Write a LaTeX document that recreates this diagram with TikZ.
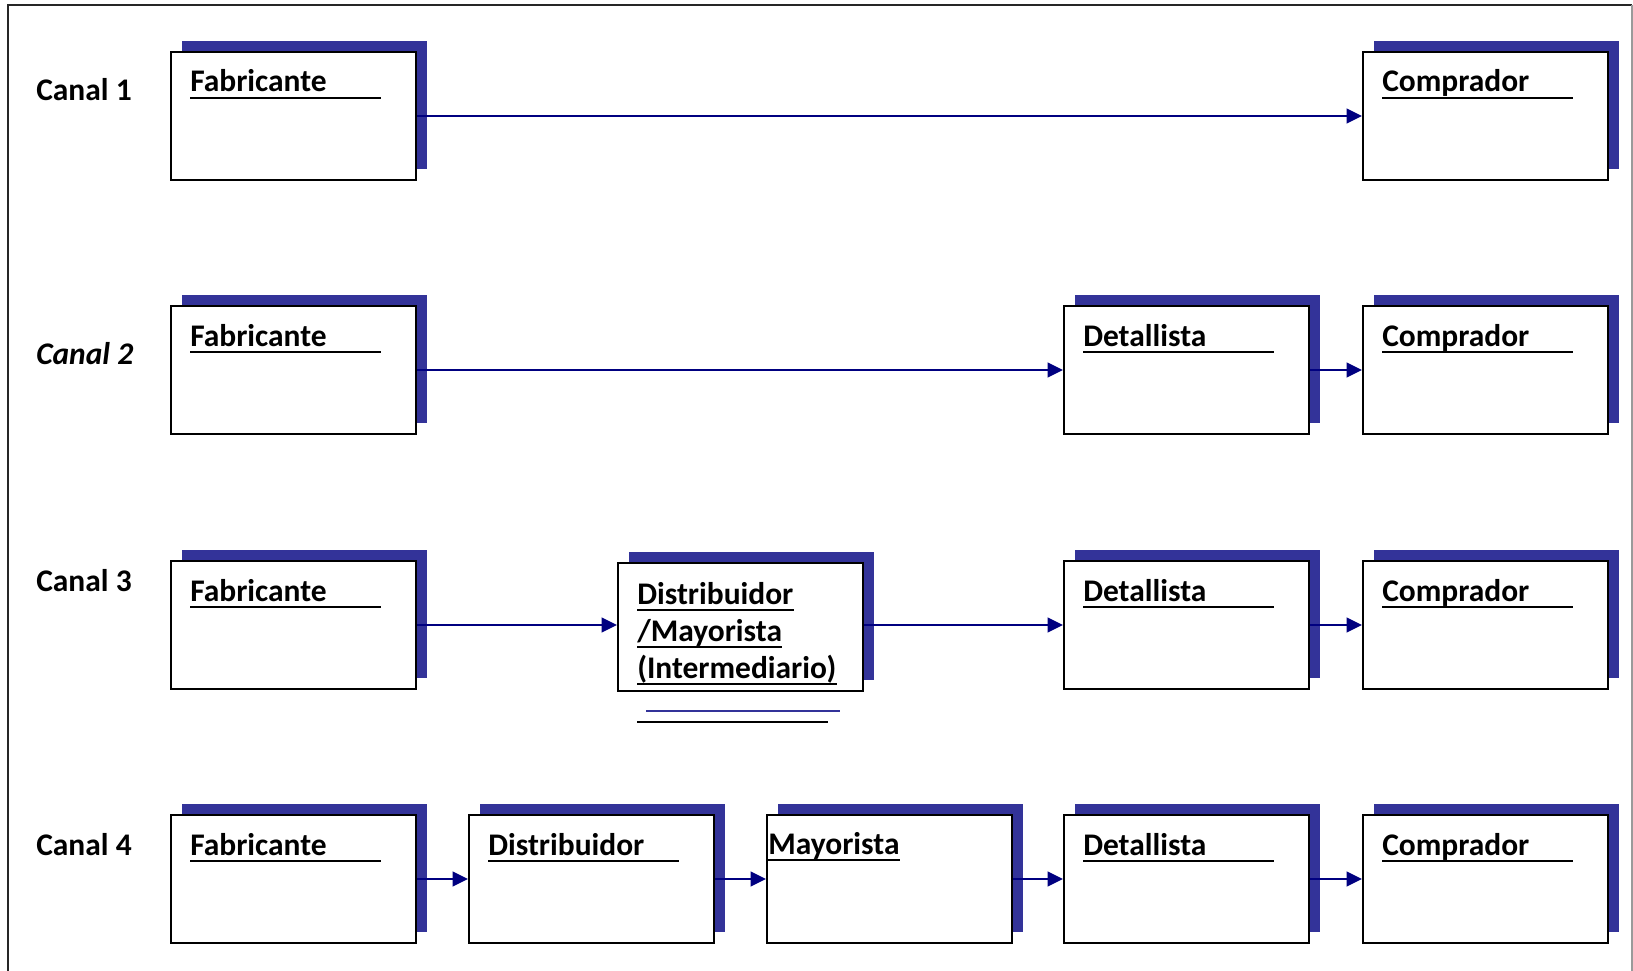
\documentclass[tikz,border=0pt]{standalone}
\usepackage{fontspec}
\setmainfont{Carlito}
\usetikzlibrary{arrows.meta,shadows}
\definecolor{shblue}{HTML}{333399}
\definecolor{navyline}{HTML}{000080}
\definecolor{framegray}{HTML}{9A9A9A}
\tikzset{
  stage/.style={draw=black, line width=1.5pt, fill=white, inner sep=0pt,
    minimum width=183.75pt, minimum height=96pt, anchor=north west,
    general shadow={fill=shblue, shadow xshift=8.25pt, shadow yshift=8.25pt}},
  title/.style={anchor=base west, inner sep=0pt,
    font=\fontsize{23.6}{28}\selectfont\bfseries},
  channel/.style={title},
  uline/.style={draw=black, line width=1.6pt},
  flow/.style={draw=navyline, line width=1.4pt,
    -{Triangle[length=11.5pt,width=11pt]}},
}
% box title with an underline running on past the word
\newcommand\stagetitle[2]{%
  \node[title] (#1-t) at ([shift={(20,41)}]#1.north west) {#2};
  \draw[uline] ([yshift=-4.2pt]#1-t.base west) -- ++(191,0);
}
\begin{document}
\begin{tikzpicture}[x=0.75pt, y=-0.75pt]
\useasboundingbox (0,0) rectangle (1633,970);

% outer frame
\draw[black!85, line width=1.5pt] (8,975) -- (8,5) -- (1632,5);
\draw[framegray, line width=1pt] (1632,5) -- (1632,975);

% channel labels
\node[channel] (ch1) at (36,101) {Canal 1};
\node[channel, font=\fontsize{23.6}{28}\selectfont\bfseries\itshape] (ch2) at (36,364) {Canal 2};
\node[channel] (ch3) at (36,591) {Canal 3};
\node[channel] (ch4) at (36,855) {Canal 4};

% row 1
\node[stage] (f1) at (170,51) {};
\node[stage] (c1) at (1362,51) {};
% row 2
\node[stage] (f2) at (170,305) {};
\node[stage] (d2) at (1063,305) {};
\node[stage] (c2) at (1362,305) {};
% row 3
\node[stage] (f3) at (170,560) {};
\node[stage] (m3) at (617,562) {};
\node[stage] (d3) at (1063,560) {};
\node[stage] (c3) at (1362,560) {};
% row 4
\node[stage] (f4) at (170,814) {};
\node[stage] (s4) at (468,814) {};
\node[stage] (m4) at (766,814) {};
\node[stage] (d4) at (1063,814) {};
\node[stage] (c4) at (1362,814) {};

% titles
\foreach \b in {f1,f2,f3,f4} {\stagetitle{\b}{Fabricante}}
\foreach \b in {c1,c2,c3,c4} {\stagetitle{\b}{Comprador}}
\foreach \b in {d2,d3,d4} {\stagetitle{\b}{Detallista}}
\stagetitle{s4}{Distribuidor}

\node[title] (m4-t) at ([shift={(2,40)}]m4.north west) {Mayorista};
\draw[uline] ([yshift=-4.2pt]m4-t.base west) -- ([yshift=-4.2pt]m4-t.base east);

\node[title] (m3-t1) at (637,604) {Distribuidor};
\node[title] (m3-t2) at (637,641) {/Mayorista};
\node[title] (m3-t3) at (637,678) {(Intermediario)};
\foreach \n in {m3-t1,m3-t2,m3-t3}
  \draw[uline] ([yshift=-4.2pt]\n.base west) -- ([yshift=-4.2pt]\n.base east);

% double rule under the intermediary
\draw[shblue, line width=1.6pt] (646,711) -- (840,711);
\draw[black, line width=1.6pt] (637,722) -- (828,722);

% flows
\draw[flow] (f1.east) -- (f1.east -| c1.west);
\draw[flow] (f2.east) -- (f2.east -| d2.west);
\draw[flow] (d2.east) -- (d2.east -| c2.west);
\draw[flow] (f3.east) -- (f3.east -| m3.west);
\draw[flow] (f3.east -| m3.east) -- (f3.east -| d3.west);
\draw[flow] (d3.east) -- (d3.east -| c3.west);
\draw[flow] (f4.east) -- (f4.east -| s4.west);
\draw[flow] (s4.east) -- (s4.east -| m4.west);
\draw[flow] (m4.east) -- (m4.east -| d4.west);
\draw[flow] (d4.east) -- (d4.east -| c4.west);
\end{tikzpicture}
\end{document}
